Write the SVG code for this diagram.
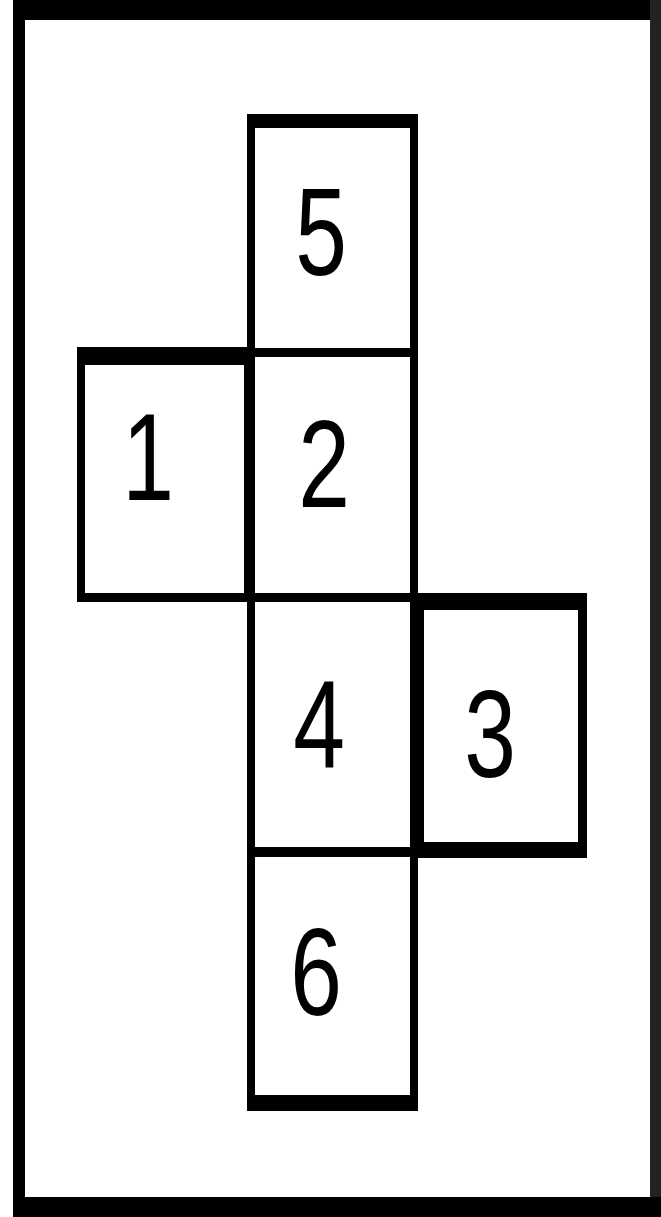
<svg xmlns="http://www.w3.org/2000/svg" width="661" height="1217" viewBox="0 0 661 1217">
<style>
.ln{fill:#000}
.num{font-family:"Liberation Sans",Arial,sans-serif;font-size:124px;fill:#000;text-anchor:middle}
</style>
<rect width="661" height="1217" fill="#fff"/>
<g id="frame">
<rect class="ln" x="13" y="0" width="648" height="20"/>
<rect class="ln" x="13" y="0" width="12" height="1217"/>
<rect x="650" y="0" width="11" height="1217" fill="#222"/>
<rect class="ln" x="13" y="1197" width="648" height="20"/>
</g>
<g id="face5">
<rect class="ln" x="247" y="114" width="171" height="14"/>
<rect class="ln" x="247" y="114" width="8" height="242"/>
<rect class="ln" x="410" y="114" width="8" height="242"/>
<text class="num" transform="translate(321,275) scale(0.75,1)">5</text>
</g>
<g id="face1">
<rect class="ln" x="77" y="347" width="178" height="18"/>
<rect class="ln" x="77" y="347" width="8" height="255"/>
<rect class="ln" x="77" y="593" width="178" height="9"/>
<text class="num" transform="translate(148,500) scale(0.75,1)">1</text>
</g>
<g id="face2">
<rect class="ln" x="247" y="348" width="171" height="9"/>
<rect class="ln" x="244" y="347" width="11" height="255"/>
<rect class="ln" x="410" y="348" width="8" height="254"/>
<rect class="ln" x="247" y="593" width="171" height="9"/>
<text class="num" transform="translate(324,507) scale(0.75,1)">2</text>
</g>
<g id="face4">
<rect class="ln" x="247" y="593" width="8" height="264"/>
<rect class="ln" x="410" y="593" width="14" height="264"/>
<rect class="ln" x="247" y="847" width="177" height="10"/>
<text class="num" transform="translate(319,767) scale(0.75,1)">4</text>
</g>
<g id="face3">
<rect class="ln" x="410" y="593" width="177" height="17"/>
<rect class="ln" x="578" y="593" width="9" height="265"/>
<rect class="ln" x="410" y="842" width="177" height="16"/>
<text class="num" transform="translate(490,777) scale(0.75,1)">3</text>
</g>
<g id="face6">
<rect class="ln" x="247" y="848" width="8" height="263"/>
<rect class="ln" x="410" y="848" width="8" height="263"/>
<rect class="ln" x="247" y="1095" width="171" height="16"/>
<text class="num" transform="translate(316,1015) scale(0.75,1)">6</text>
</g>
<g id="connectors"/>
</svg>
